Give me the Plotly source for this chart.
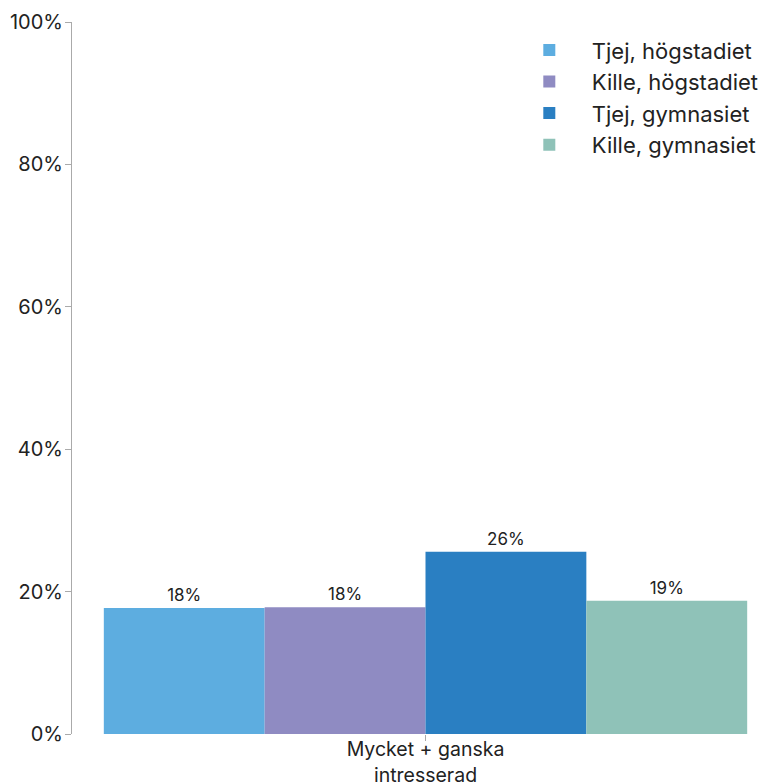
import plotly.graph_objects as go

categories = ["Mycket + ganska<br>intresserad"]
series_names = ["Tjej, högstadiet", "Kille, högstadiet", "Tjej, gymnasiet", "Kille, gymnasiet"]
series_values = [[0.177], [0.178], [0.256], [0.187]]
series_labels = [["18%"], ["18%"], ["26%"], ["19%"]]
colors = ["#5DADE0", "#8F8BC2", "#2A7FC2", "#8FC2B8"]
y_ticks = [0, 0.2, 0.4, 0.6, 0.8, 1.0]
y_tick_labels = ["0%", "20%", "40%", "60%", "80%", "100%"]

FONT = "Inter, Lato, sans-serif"

fig = go.Figure()
for name, vals, labs, col in zip(series_names, series_values, series_labels, colors):
    fig.add_trace(go.Bar(
        x=categories, y=vals, name=name, legendgroup=name,
        marker=dict(color=col, line=dict(width=0)),
        text=labs, textposition="outside", cliponaxis=False,
        textfont=dict(size=17, color="#222222", family=FONT),
        hoverinfo="skip",
    ))

fig.update_layout(
    width=779, height=783,
    margin=dict(l=72, r=0, t=22, b=49),
    paper_bgcolor="white", plot_bgcolor="white",
    barmode="group", bargap=0.09, bargroupgap=0,
    font=dict(family=FONT, color="#222222"),
    showlegend=True,
    legend=dict(
        x=0.615, y=0.99, xanchor="left", yanchor="top",
        font=dict(size=22, color="#222222", family=FONT),
        itemwidth=75, tracegroupgap=0, bgcolor="rgba(0,0,0,0)",
    ),
    xaxis=dict(
        automargin=False,
        showline=False, showgrid=False, zeroline=False,
        ticks="outside", ticklen=6, tickcolor="#aaaaaa", tickwidth=1,
        tickfont=dict(size=19.5, color="#222222", family=FONT),
        ticklabelstandoff=-8,
    ),
    yaxis=dict(
        automargin=False,
        range=[0, 1], tickvals=y_ticks, ticktext=y_tick_labels,
        showline=True, linecolor="#aaaaaa", linewidth=1,
        showgrid=False, zeroline=False,
        ticks="outside", ticklen=6, tickcolor="#aaaaaa", tickwidth=1,
        tickfont=dict(size=20, color="#222222", family=FONT),
        ticklabelstandoff=-2,
    ),
)

fig.write_html(
    "out.html",
    config={"displayModeBar": False},
    post_script="document.body.style.margin='0';document.body.style.overflow='hidden';",
)
